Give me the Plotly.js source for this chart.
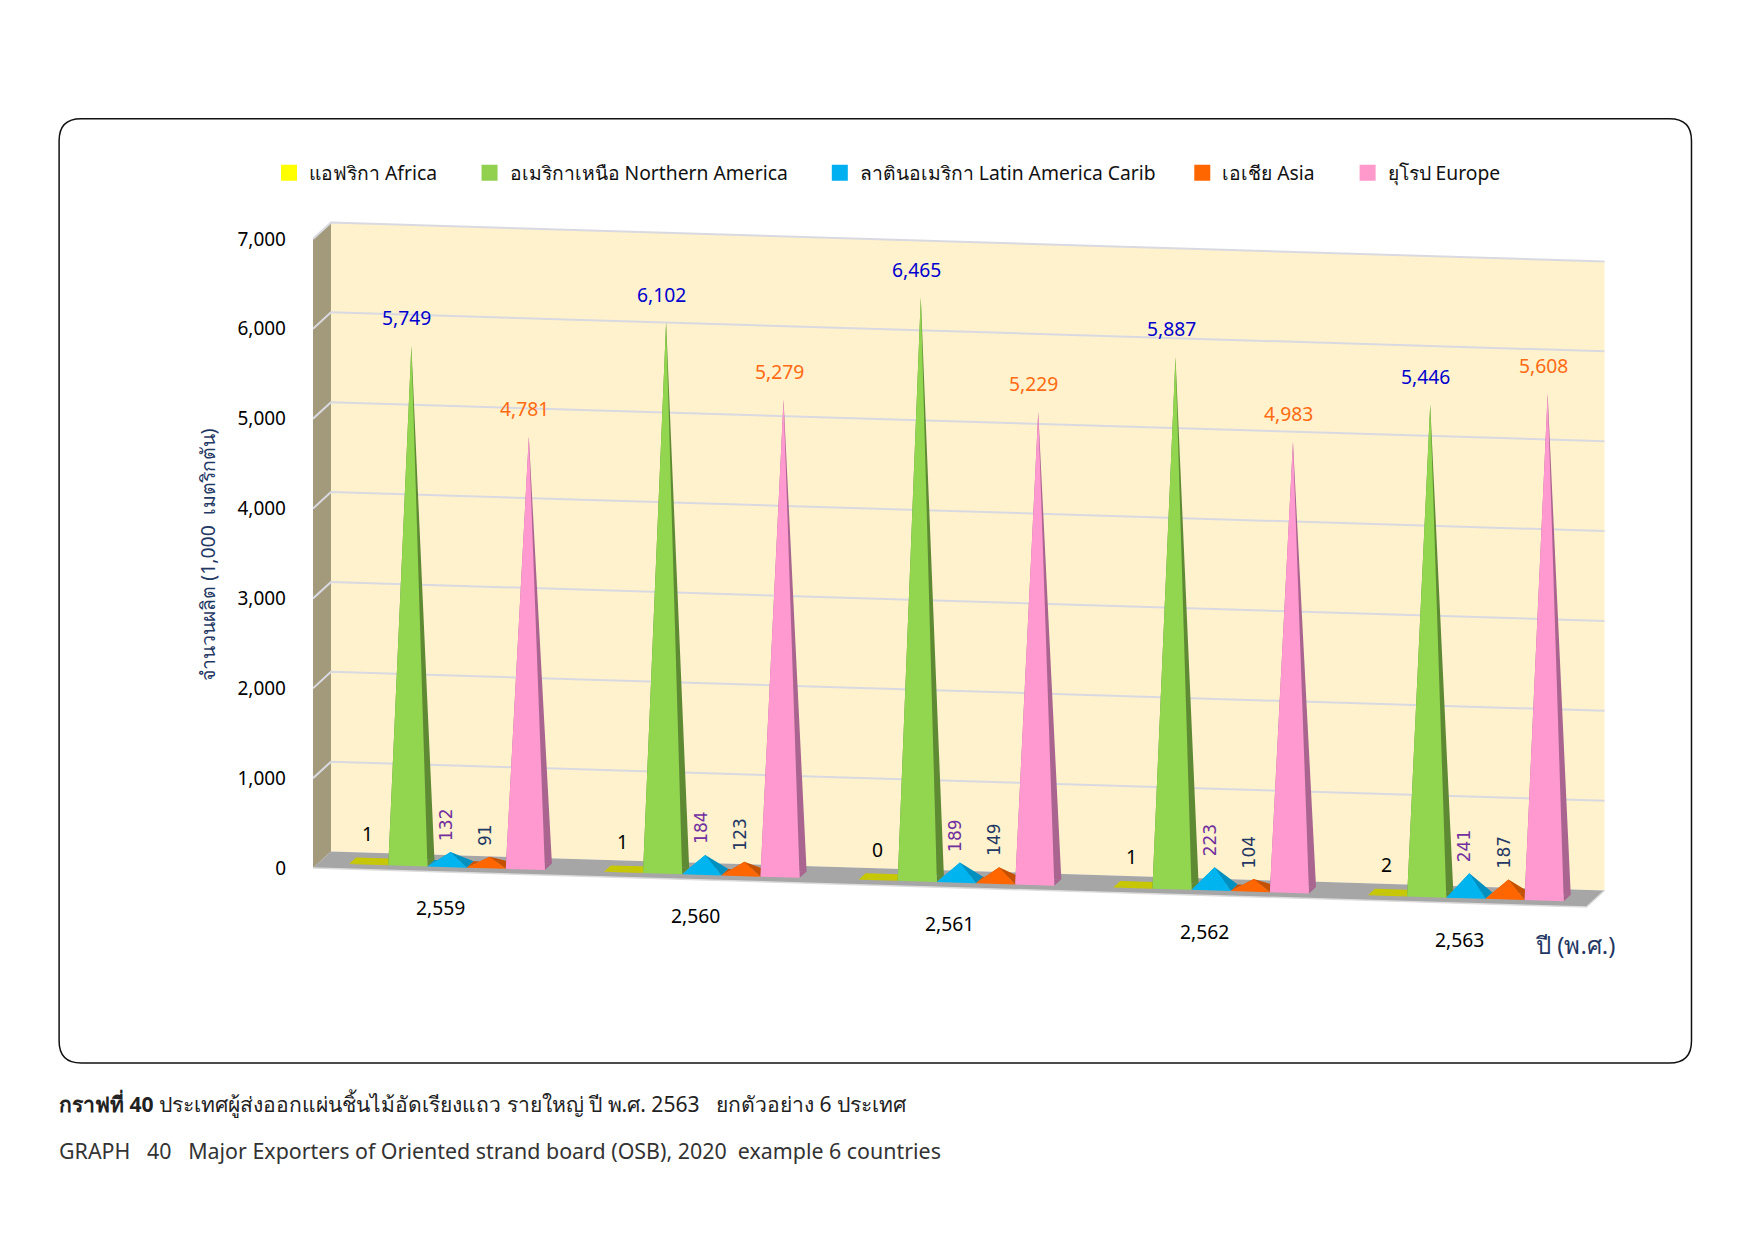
<!DOCTYPE html>
<html>
<head>
<meta charset="utf-8">
<script src="https://cdn.plot.ly/plotly-3.0.1.min.js"></script>
<style>html,body{margin:0;padding:0;background:#fff}</style>
</head>
<body>
<div id="chart" style="width:1755px;height:1241px"></div>
<script>
// ---- data ----
const years = ['2,559','2,560','2,561','2,562','2,563'];
const africa = [1,1,0,1,2];
const northAmerica = [5749,6102,6465,5887,5446];
const latinAmerica = [132,184,189,223,241];
const asia = [91,123,149,104,187];
const europe = [4781,5279,5229,4983,5608];
const seriesNames = ['แอฟริกา Africa','อเมริกาเหนือ Northern America','ลาตินอเมริกา Latin America Carib','เอเชีย Asia','ยุโรป Europe'];
const yTicks = [0,1000,2000,3000,4000,5000,6000,7000];

// ---- 3D look: oblique projection expressed in axis units ----
const FONT = '"Noto Sans", "Open Sans", sans-serif';
const pxPerCat = 254.8, pxPerUnit = 0.0899;
const L = 313, T = 195.7, W = 5.1 * pxPerCat, H = 7978 * pxPerUnit;
const DX = 18 / pxPerCat, DY = 16.5 / pxPerUnit, SKEW = -7.8 / pxPerUnit;
const BAR = 0.1537, D0 = 0.30, D1 = 0.69, CS = 0.005;
function P(c, d, v) { return [c + d * DX, v + SKEW * (c + 0.5) + d * DY]; }
function px(x) { return (x - L) / W; }
function py(y) { return 1 - (y - T) / H; }

function poly(list, color) {
  const x = [], y = [];
  list.forEach(pts => { pts.forEach(p => { x.push(p[0]); y.push(p[1]); }); x.push(null); y.push(null); });
  return { type:'scatter', mode:'lines', x, y, fill:'toself', fillcolor:color,
           line:{width:0, color:color}, hoverinfo:'skip', showlegend:false };
}
function lines(list, color, width) {
  const x = [], y = [];
  list.forEach(pts => { pts.forEach(p => { x.push(p[0]); y.push(p[1]); }); x.push(null); y.push(null); });
  return { type:'scatter', mode:'lines', x, y, line:{width, color}, hoverinfo:'skip', showlegend:false };
}

const C0 = -0.5, C1 = 4.5, VMAX = yTicks[yTicks.length - 1];
const traces = [];
// walls and floor
traces.push(poly([[P(C0,0,0),P(C0,1,0),P(C0,1,VMAX),P(C0,0,VMAX)]], '#a39a7b'));
traces.push(poly([[P(C0,1,0),P(C1,1,0),P(C1,1,VMAX),P(C0,1,VMAX)]], '#fff2cc'));
traces.push(poly([[P(C0,0,0),P(C1,0,0),P(C1,1,0),P(C0,1,0)]], '#a6a6a6'));
traces.push(lines([[P(C0,0,0),P(C1,0,0),P(C1,1,0)]], '#dcdcdc', 1.5));
traces.push(lines(yTicks.slice(1).map(v => [P(C0,0,v),P(C0,1,v),P(C1,1,v)]), '#d9d9e2', 2));

// pyramids
const seriesVals = [africa, northAmerica, latinAmerica, asia, europe];
const frontCol = ['#c8c800','#92d650','#00b4f0','#ff6600','#ff99d0'];
const sideCol  = ['#c8c800','#5f8a34','#0090c0','#c45000','#a9658f'];
const legendCol = ['#ffff00','#92d050','#00b0f0','#ff6600','#ff99cc'];
const labelCol = ['#000000','#0000d0','#7030a0','#1f3864','#ff6a13'];
const annotations = [];
seriesVals.forEach((vals, s) => {
  const offs = (s - 2) * BAR + CS;
  const side = [], front = [];
  vals.forEach((v, c) => {
    const cx = c + offs, l = cx - BAR/2, r = cx + BAR/2, dm = (D0 + D1)/2;
    const apex = P(cx, dm, v);
    const FL = P(l,D0,0), FR = P(r,D0,0), BR = P(r,D1,0), BL = P(l,D1,0);
    side.push([FL,BL,apex],[BL,BR,apex],[FR,BR,apex]);
    front.push([FL,FR,apex]);
    const rotated = (s === 2 || s === 3);
    annotations.push({
      xref:'x', yref:'y', x:apex[0], y:apex[1], showarrow:false,
      text: v.toLocaleString('en-US'),
      textangle: rotated ? -90 : 0,
      xanchor:'center', yanchor: rotated ? 'bottom' : 'middle',
      xshift:-4.5, yshift: rotated ? 9 : 28,
      font:{ family: rotated ? '"DejaVu Sans", sans-serif' : FONT, size: rotated ? 17 : 19.3, color: labelCol[s] }
    });
  });
  traces.push(poly(side, sideCol[s]));
  traces.push(poly(front, frontCol[s]));
});

// year labels under the floor
years.forEach((y, c) => {
  const p = P(c, 0, 0);
  annotations.push({ xref:'x', yref:'y', x:p[0], y:p[1], text:y, showarrow:false,
    xanchor:'center', yanchor:'middle', yshift:-36, font:{family:FONT, size:19.3, color:'#000'} });
});
annotations.push({ xref:'paper', yref:'paper', x:px(1576), y:py(944), text:'ปี (พ.ศ.)', showarrow:false,
  xanchor:'center', yanchor:'middle', font:{family:FONT, size:24, color:'#1f3864'} });
annotations.push({ xref:'paper', yref:'paper', x:px(57), y:py(1103),
  text:'<b>กราฟที่ 40</b> ประเทศผู้ส่งออกแผ่นชิ้นไม้อัดเรียงแถว รายใหญ่ ปี พ.ศ. 2563   ยกตัวอย่าง 6 ประเทศ',
  showarrow:false, xanchor:'left', yanchor:'middle', font:{family:FONT, size:21.1, color:'#222'} });
annotations.push({ xref:'paper', yref:'paper', x:px(57), y:py(1150),
  text:'GRAPH   40   Major Exporters of Oriented strand board (OSB), 2020  example 6 countries',
  showarrow:false, xanchor:'left', yanchor:'middle', font:{family:FONT, size:21.4, color:'#333'} });

// legend (one small legend per series, so each sits where the reference has it)
const legendCenters = [293, 493.6, 844, 1206.6, 1372];
const legends = {};
seriesNames.forEach((name, i) => {
  const key = i === 0 ? 'legend' : 'legend' + (i + 1);
  traces.push({ type:'scatter', mode:'markers', x:[null], y:[null], name,
    marker:{symbol:'square', size:20, color:legendCol[i]}, legend:key, hoverinfo:'skip' });
  legends[key] = { x:px(legendCenters[i] - 16.6), y:py(173), xanchor:'left', yanchor:'middle',
    bgcolor:'rgba(0,0,0,0)', borderwidth:0, indentation:-7.4, itemclick:false, itemdoubleclick:false,
    font:{family:FONT, size:19.3, color:'#111'} };
});

// rounded panel
const a = 59, b = 118.5, c2 = 1692, d = 1063, r = 22;
const panel = { type:'path', xref:'paper', yref:'paper', layer:'below',
  line:{color:'#111', width:1.5}, fillcolor:'rgba(0,0,0,0)',
  path:`M ${px(a+r)} ${py(b)} L ${px(c2-r)} ${py(b)} Q ${px(c2)} ${py(b)} ${px(c2)} ${py(b+r)} L ${px(c2)} ${py(d-r)} Q ${px(c2)} ${py(d)} ${px(c2-r)} ${py(d)} L ${px(a+r)} ${py(d)} Q ${px(a)} ${py(d)} ${px(a)} ${py(d-r)} L ${px(a)} ${py(b+r)} Q ${px(a)} ${py(b)} ${px(a+r)} ${py(b)} Z` };

const layout = Object.assign({
  width:1755, height:1241, paper_bgcolor:'#fff', plot_bgcolor:'rgba(0,0,0,0)',
  margin:{l:L, t:T, r:1755 - L - W, b:1241 - T - H, autoexpand:false, pad:0},
  hovermode:false, showlegend:true,
  xaxis:{range:[-0.5, 4.6], visible:false, fixedrange:true},
  yaxis:{range:[-500, 7478], tickvals:yTicks, ticktext:yTicks.map(v => v.toLocaleString('en-US')),
    showgrid:false, zeroline:false, showline:false, ticks:'', ticklabelstandoff:26, fixedrange:true,
    tickfont:{family:FONT, size:19, color:'#000'},
    title:{text:'จำนวนผลิต (1,000  เมตริกตัน)', standoff:16, font:{family:FONT, size:19.4, color:'#1f3864'}}},
  shapes:[panel], annotations
}, legends);

Plotly.newPlot('chart', traces, layout, {displayModeBar:false, staticPlot:false});
</script>
</body>
</html>
